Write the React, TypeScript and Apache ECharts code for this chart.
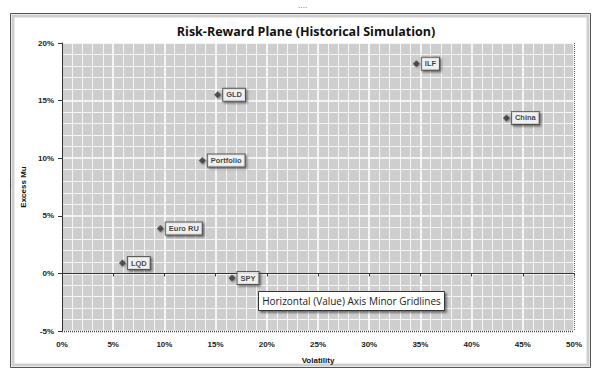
import React, { useEffect, useRef } from "react";
import * as echarts from "echarts";

const names = ["GLD", "ILF", "China", "Portfolio", "Euro RU", "LQD", "SPY"];
const volatility = [15.2, 34.6, 43.4, 13.7, 9.6, 5.9, 16.6];
const excessMu = [15.5, 18.2, 13.5, 9.8, 3.9, 0.9, -0.4];
const xTicks = { min: 0, max: 50, interval: 5 };
const yTicks = { min: -5, max: 20, interval: 5 };

const FONT = "'Liberation Sans', Arial, sans-serif";

export default function App() {
  const ref = useRef<HTMLDivElement>(null);
  useEffect(() => {
    if (!ref.current) return;
    const chart = echarts.init(ref.current, undefined, { renderer: "svg" });
    const data = names.map((n, i) => ({ name: n, value: [volatility[i], excessMu[i]] }));
    chart.setOption({
      animation: false,
      backgroundColor: "#ffffff",
      title: {
        text: "Risk-Reward Plane (Historical Simulation)",
        left: 301,
        top: 20,
        textAlign: "center",
        textStyle: { fontFamily: "'Open Sans', sans-serif", fontSize: 12.5, fontWeight: "bold", color: "#111" },
      },
      graphic: [
        { type: "rect", shape: { x: 10.5, y: 13.5, width: 580, height: 354 }, style: { fill: "none", stroke: "#555", lineWidth: 1 }, z: -10 },
        { type: "rect", shape: { x: 13, y: 16, width: 575, height: 349 }, style: { fill: "none", stroke: "#cfcfcf", lineWidth: 3 }, z: -10 },
        { type: "rect", shape: { x: 62, y: 43, width: 512, height: 288 }, style: { fill: "#cecece" }, z: -5 },
        { type: "line", shape: { x1: 574.5, y1: 43, x2: 574.5, y2: 331 }, style: { stroke: "#555", lineWidth: 1, lineDash: [1, 1] }, z: 10 },
        { type: "line", shape: { x1: 62, y1: 331.5, x2: 574, y2: 331.5 }, style: { stroke: "#444", lineWidth: 1.5, lineDash: [1, 1] }, z: 10 },
        { type: "text", x: 298, y: 4, style: { text: "····", fontSize: 7, fill: "#333" } },
        { type: "text", x: 7, y: 188, rotation: Math.PI / 2, style: { text: "····", fontSize: 7, fill: "#333" } },
        {
          type: "rect",
          shape: { x: 258.5, y: 291.5, width: 186, height: 19 },
          style: { fill: "#ffffff", stroke: "#333", lineWidth: 1, shadowBlur: 2, shadowOffsetX: 2, shadowOffsetY: 2, shadowColor: "rgba(0,0,0,0.45)" },
          z: 20,
        },
        {
          type: "text",
          x: 351.5,
          y: 301,
          style: { text: "Horizontal (Value) Axis Minor Gridlines", fontFamily: "'Open Sans', sans-serif", fontSize: 10, fill: "#222", align: "center", verticalAlign: "middle" },
          z: 21,
        },
      ],
      grid: { left: 62, right: 20, top: 43, bottom: 42, containLabel: false },
      xAxis: [
        {
          type: "value",
          min: xTicks.min,
          max: xTicks.max,
          interval: xTicks.interval,
          name: "Volatility",
          nameLocation: "middle",
          nameGap: 25,
          nameTextStyle: { fontFamily: FONT, fontSize: 8, fontWeight: "bold", color: "#111" },
          axisLine: { show: false, onZero: false },
          axisTick: { show: false },
          axisLabel: { formatter: (v: number) => v + "%", fontFamily: FONT, fontSize: 8, fontWeight: "bold", color: "#222", margin: 9 },
          splitLine: { show: true, lineStyle: { color: "#ffffff", width: 1.6 } },
          minorTick: { show: false, splitNumber: 5 },
          minorSplitLine: { show: true, lineStyle: { color: "#f6f6f6", width: 1 } },
        },
        {
          type: "value",
          min: xTicks.min,
          max: xTicks.max,
          interval: xTicks.interval,
          position: "bottom",
          axisLine: { show: true, onZero: true, lineStyle: { color: "#333", width: 1 } },
          axisTick: { show: true, length: 3, lineStyle: { color: "#333" } },
          axisLabel: { show: false },
          splitLine: { show: false },
        },
      ],
      yAxis: {
        type: "value",
        min: yTicks.min,
        max: yTicks.max,
        interval: yTicks.interval,
        name: "Excess Mu",
        nameLocation: "middle",
        nameGap: 34,
        nameRotate: 90,
        nameTextStyle: { fontFamily: FONT, fontSize: 8, fontWeight: "bold", color: "#111" },
        axisLine: { show: true, lineStyle: { color: "#333", width: 1 } },
        axisTick: { show: true, length: 4, lineStyle: { color: "#333" } },
        axisLabel: { formatter: (v: number) => v + "%", fontFamily: FONT, fontSize: 8, fontWeight: "bold", color: "#222", margin: 8 },
        splitLine: { show: true, lineStyle: { color: "#ffffff", width: 1.6 } },
        minorTick: { show: false, splitNumber: 5 },
        minorSplitLine: { show: true, lineStyle: { color: "#f6f6f6", width: 1 } },
      },
      series: [
        {
          type: "scatter",
          xAxisIndex: 0,
          data,
          symbol: "diamond",
          symbolSize: 7,
          itemStyle: { color: "#3a3a3a", shadowBlur: 2, shadowColor: "rgba(0,0,0,0.5)", shadowOffsetX: 1, shadowOffsetY: 1 },
          label: {
            show: true,
            position: "right",
            distance: 2,
            formatter: (p: any) => p.name,
            fontFamily: FONT,
            fontSize: 7.5,
            fontWeight: "bold",
            color: "#111",
            backgroundColor: "#ffffff",
            borderColor: "#444",
            borderWidth: 1,
            padding: [2, 3, 2, 3],
            shadowBlur: 2,
            shadowColor: "rgba(0,0,0,0.6)",
            shadowOffsetX: 1.5,
            shadowOffsetY: 1.5,
          },
          z: 5,
        },
      ],
    });
    return () => chart.dispose();
  }, []);
  return <div ref={ref} style={{ width: 594, height: 373, position: "absolute", left: 0, top: 0 }} />;
}
